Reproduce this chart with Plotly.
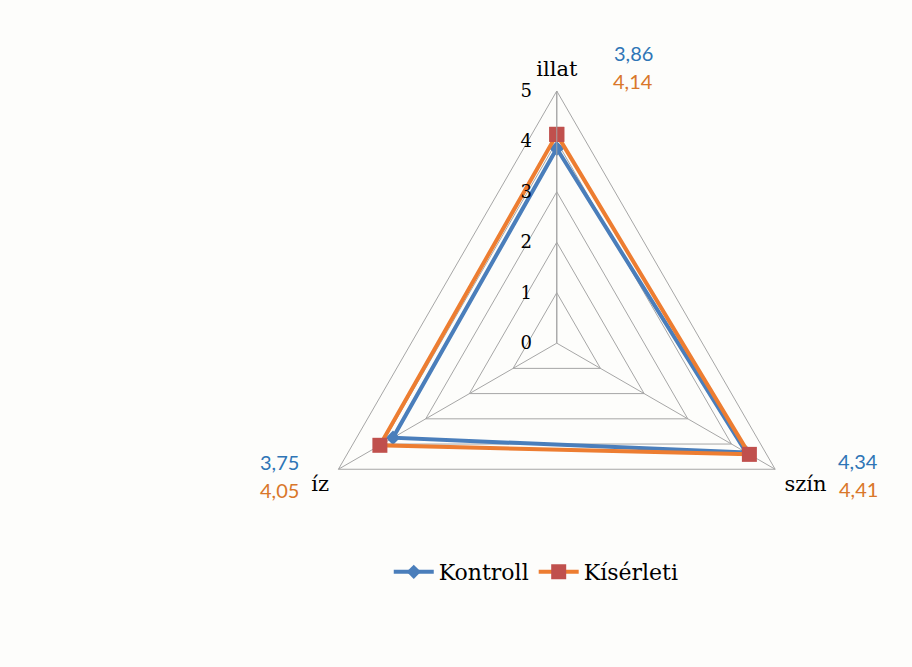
import plotly.graph_objects as go

categories = ["illat", "szín", "íz"]
kontroll = [3.86, 4.34, 3.75]
kiserleti = [4.14, 4.41, 4.05]
radial_ticks = [0, 1, 2, 3, 4, 5]

blue_line = "#4a7ebb"
orange_line = "#ed7d31"
red_marker = "#c0504d"
blue_text = "#2e75b6"
orange_text = "#d9772a"
grid = "#a6a6a6"
serif = "DejaVu Serif, serif"


def closed(vals):
    return vals + vals[:1]


def fmt(v):
    return f"{v:.2f}".replace(".", ",")


fig = go.Figure()
fig.add_trace(go.Scatterpolar(
    r=closed(kontroll), theta=closed(categories), name="Kontroll",
    mode="lines+markers",
    line=dict(color=blue_line, width=4),
    marker=dict(symbol="diamond", size=11, color=blue_line),
))
fig.add_trace(go.Scatterpolar(
    r=closed(kiserleti), theta=closed(categories), name="Kísérleti",
    mode="lines+markers",
    line=dict(color=orange_line, width=4),
    marker=dict(symbol="square", size=15, color=red_marker),
))

# value labels next to each category vertex (paper coordinates)
label_pos = {
    "illat": (0.718, 0.9),
    "szín": (0.965, 0.288),
    "íz": (0.330, 0.286),
}
annotations = []
for i, cat in enumerate(categories):
    x, y = label_pos[cat]
    annotations.append(dict(
        x=x, y=y, xref="paper", yref="paper", showarrow=False,
        xanchor="right", yanchor="bottom",
        text=fmt(kontroll[i]),
        font=dict(family="Lato, sans-serif", size=20, color=blue_text),
    ))
    annotations.append(dict(
        x=x, y=y, xref="paper", yref="paper", showarrow=False,
        xanchor="right", yanchor="top",
        text=fmt(kiserleti[i]),
        font=dict(family="Lato, sans-serif", size=20, color=orange_text),
    ))

fig.update_layout(
    width=912, height=667,
    margin=dict(l=0, r=0, t=0, b=0),
    paper_bgcolor="#fdfdfb",
    plot_bgcolor="#fdfdfb",
    showlegend=True,
    legend=dict(
        orientation="h", x=0.588, y=0.1424, xanchor="center", yanchor="middle",
        font=dict(family=serif, size=22, color="black"),
        bgcolor="rgba(0,0,0,0)", itemwidth=40, tracegroupgap=0,
    ),
    polar=dict(
        domain=dict(x=[0.334, 0.887], y=[0.107, 0.864]),
        bgcolor="#fdfdfb",
        gridshape="linear",
        angularaxis=dict(
            rotation=90, direction="clockwise",
            categoryorder="array", categoryarray=categories,
            showline=True, linecolor=grid, linewidth=1,
            gridcolor=grid, gridwidth=1,
            ticks="outside", ticklen=6, tickcolor="rgba(0,0,0,0)",
            tickfont=dict(family=serif, size=21, color="black"),
        ),
        radialaxis=dict(
            range=[0, 5], tickvals=radial_ticks, ticktext=[str(t) for t in radial_ticks],
            angle=90, tickangle=90, side="counterclockwise",
            showline=True, linecolor=grid, linewidth=1,
            gridcolor=grid, gridwidth=1,
            ticks="outside", ticklen=18, tickcolor="rgba(0,0,0,0)",
            tickfont=dict(family=serif, size=18, color="black"),
        ),
    ),
    annotations=annotations,
)

fig.write_html("out.html")
